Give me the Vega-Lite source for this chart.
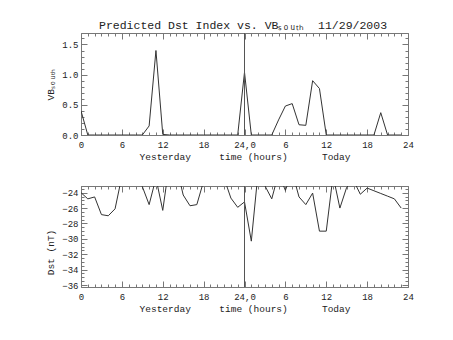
{
  "$schema": "https://vega.github.io/schema/vega-lite/v6.json",
  "padding": {"left": 45, "top": 20, "right": 5, "bottom": 5},
  "spacing": 0,
  "background": "white",
  "config": {
    "font": "Liberation Mono",
    "view": {"stroke": null},
    "axis": {
      "grid": false,
      "labelFont": "Liberation Mono",
      "labelFontSize": 9,
      "labelColor": "#222",
      "titleFont": "Liberation Mono",
      "titleFontSize": 9.5,
      "titleFontWeight": "normal",
      "titleColor": "#222",
      "domainColor": "#777",
      "tickColor": "#777",
      "domainWidth": 1,
      "tickWidth": 1
    }
  },
  "datasets": {
    "vb": [
      {"h": 0, "v": 0.40}, {"h": 1, "v": 0}, {"h": 2, "v": 0}, {"h": 3, "v": 0}, {"h": 4, "v": 0},
      {"h": 5, "v": 0}, {"h": 6, "v": 0}, {"h": 7, "v": 0}, {"h": 8, "v": 0}, {"h": 9, "v": 0},
      {"h": 10, "v": 0.15}, {"h": 11, "v": 1.40}, {"h": 12, "v": 0.01}, {"h": 13, "v": 0}, {"h": 14, "v": 0},
      {"h": 15, "v": 0}, {"h": 16, "v": 0}, {"h": 17, "v": 0}, {"h": 18, "v": 0}, {"h": 19, "v": 0},
      {"h": 20, "v": 0}, {"h": 21, "v": 0}, {"h": 22, "v": 0}, {"h": 23, "v": 0}, {"h": 24, "v": 1.04},
      {"h": 25, "v": 0}, {"h": 26, "v": 0}, {"h": 27, "v": 0}, {"h": 28, "v": 0}, {"h": 29, "v": 0.25},
      {"h": 30, "v": 0.48}, {"h": 31, "v": 0.52}, {"h": 32, "v": 0.17}, {"h": 33, "v": 0.16}, {"h": 34, "v": 0.90},
      {"h": 35, "v": 0.77}, {"h": 36, "v": 0}, {"h": 37, "v": 0}, {"h": 38, "v": 0}, {"h": 39, "v": 0},
      {"h": 40, "v": 0}, {"h": 41, "v": 0}, {"h": 42, "v": 0}, {"h": 43, "v": 0}, {"h": 44, "v": 0.37},
      {"h": 45, "v": 0}, {"h": 46, "v": 0}, {"h": 47, "v": 0}
    ],
    "dst": [
      {"h": 0, "v": -24.0}, {"h": 1, "v": -24.8}, {"h": 2, "v": -24.55}, {"h": 3, "v": -26.85}, {"h": 4, "v": -27.0},
      {"h": 5, "v": -26.1}, {"h": 6, "v": -21.85}, {"h": 7, "v": -21.5}, {"h": 8, "v": -22.0}, {"h": 9, "v": -23.2},
      {"h": 10, "v": -25.55}, {"h": 11, "v": -22.1}, {"h": 12, "v": -26.3}, {"h": 13, "v": -20.0}, {"h": 14, "v": -20.5},
      {"h": 15, "v": -24.3}, {"h": 16, "v": -25.7}, {"h": 17, "v": -25.55}, {"h": 18, "v": -22.5}, {"h": 19, "v": -21.5},
      {"h": 20, "v": -21.2}, {"h": 21, "v": -22.1}, {"h": 22, "v": -24.7}, {"h": 23, "v": -25.9}, {"h": 24, "v": -25.2},
      {"h": 25, "v": -30.3}, {"h": 26, "v": -21.3}, {"h": 27, "v": -23.1}, {"h": 28, "v": -24.8}, {"h": 29, "v": -21.5},
      {"h": 30, "v": -23.7}, {"h": 31, "v": -21.3}, {"h": 32, "v": -24.55}, {"h": 33, "v": -25.55}, {"h": 34, "v": -24.05},
      {"h": 35, "v": -29.0}, {"h": 36, "v": -29.0}, {"h": 37, "v": -21.8}, {"h": 38, "v": -26.0}, {"h": 39, "v": -23.3},
      {"h": 40, "v": -22.4}, {"h": 41, "v": -24.2}, {"h": 42, "v": -23.4}, {"h": 43, "v": -23.75}, {"h": 44, "v": -24.1},
      {"h": 45, "v": -24.45}, {"h": 46, "v": -24.8}, {"h": 47, "v": -26.0}
    ]
  },
  "vconcat": [
    {
      "width": 327,
      "height": 102,
      "title": {
        "text": "Predicted Dst Index vs. VB\u209b\u2092\u1d64\u209c\u2095\u00a0\u00a011/29/2003",
        "anchor": "start",
        "frame": "group",
        "dx": 18,
        "offset": 1,
        "font": "Liberation Mono",
        "fontSize": 11.5,
        "fontWeight": "normal",
        "color": "#222"
      },
      "data": {"name": "vb"},
      "layer": [
        {
          "mark": {"type": "line", "color": "#333", "strokeWidth": 1, "clip": true},
          "encoding": {
            "x": {"field": "h", "type": "quantitative", "scale": {"domain": [0, 48], "nice": false, "zero": false},
              "axis": {"orient": "bottom", "values": [0, 6, 12, 18, 24, 30, 36, 42, 48],
                "labelExpr": "datum.value == 24 ? '24,0' : datum.value > 24 ? format(datum.value - 24, 'd') : format(datum.value, 'd')",
                "tickSize": -6, "labelPadding": 11, "labelFlush": false,
                "title": "Yesterday\u00a0\u00a0\u00a0\u00a0\u00a0time (hours)\u00a0\u00a0\u00a0\u00a0\u00a0\u00a0Today", "titlePadding": 2}},
            "y": {"field": "v", "type": "quantitative", "scale": {"domain": [0, 1.69], "nice": false, "zero": false},
              "axis": {"orient": "left", "values": [0, 0.5, 1, 1.5], "format": ".1f", "tickSize": -6, "labelPadding": 9,
                "title": "VB\u209b\u2092\u1d64\u209c\u2095", "titlePadding": 6}}
          }
        },
        {
          "mark": {"type": "line", "opacity": 0},
          "encoding": {
            "x": {"field": "h", "type": "quantitative", "scale": {"domain": [0, 48], "nice": false, "zero": false},
              "axis": {"orient": "bottom", "values": [0,1,2,3,4,5,6,7,8,9,10,11,12,13,14,15,16,17,18,19,20,21,22,23,24,25,26,27,28,29,30,31,32,33,34,35,36,37,38,39,40,41,42,43,44,45,46,47,48],
                "tickSize": -3, "labels": false, "domain": false, "title": null}},
            "y": {"field": "v", "type": "quantitative", "scale": {"domain": [0, 1.69], "nice": false, "zero": false},
              "axis": {"orient": "left", "values": [0,0.1,0.2,0.3,0.4,0.5,0.6,0.7,0.8,0.9,1.0,1.1,1.2,1.3,1.4,1.5,1.6],
                "tickSize": -3, "labels": false, "domain": false, "title": null}}
          }
        },
        {
          "mark": {"type": "line", "opacity": 0},
          "encoding": {
            "x": {"field": "h", "type": "quantitative", "scale": {"domain": [0, 48], "nice": false, "zero": false},
              "axis": {"orient": "top", "values": [0, 6, 12, 18, 24, 30, 36, 42, 48], "tickSize": -6, "labels": false, "domain": true, "title": null}},
            "y": {"field": "v", "type": "quantitative", "scale": {"domain": [0, 1.69], "nice": false, "zero": false},
              "axis": {"orient": "right", "values": [0, 0.5, 1, 1.5], "tickSize": -6, "labels": false, "domain": true, "title": null}}
          }
        },
        {
          "mark": {"type": "line", "opacity": 0},
          "encoding": {
            "x": {"field": "h", "type": "quantitative", "scale": {"domain": [0, 48], "nice": false, "zero": false},
              "axis": {"orient": "top", "values": [0,1,2,3,4,5,6,7,8,9,10,11,12,13,14,15,16,17,18,19,20,21,22,23,24,25,26,27,28,29,30,31,32,33,34,35,36,37,38,39,40,41,42,43,44,45,46,47,48],
                "tickSize": -3, "labels": false, "domain": false, "title": null}},
            "y": {"field": "v", "type": "quantitative", "scale": {"domain": [0, 1.69], "nice": false, "zero": false},
              "axis": {"orient": "right", "values": [0,0.1,0.2,0.3,0.4,0.5,0.6,0.7,0.8,0.9,1.0,1.1,1.2,1.3,1.4,1.5,1.6],
                "tickSize": -3, "labels": false, "domain": false, "title": null}}
          }
        },
        {
          "mark": {"type": "rule", "color": "#555", "strokeWidth": 1, "clip": true},
          "encoding": {
            "x": {"datum": 24, "type": "quantitative", "axis": null},
            "y": {"datum": 0, "type": "quantitative", "axis": null},
            "y2": {"datum": 1.69}
          }
        }
      ],
      "resolve": {"axis": {"x": "independent", "y": "independent"}}
    },
    {
      "width": 327,
      "height": 101,
      "data": {"name": "dst"},
      "layer": [
        {
          "mark": {"type": "line", "color": "#333", "strokeWidth": 1, "clip": true},
          "encoding": {
            "x": {"field": "h", "type": "quantitative", "scale": {"domain": [0, 48], "nice": false, "zero": false},
              "axis": {"orient": "bottom", "values": [0, 6, 12, 18, 24, 30, 36, 42, 48],
                "labelExpr": "datum.value == 24 ? '24,0' : datum.value > 24 ? format(datum.value - 24, 'd') : format(datum.value, 'd')",
                "tickSize": -6, "labelPadding": 11, "labelFlush": false,
                "title": "Yesterday\u00a0\u00a0\u00a0\u00a0\u00a0time (hours)\u00a0\u00a0\u00a0\u00a0\u00a0\u00a0Today", "titlePadding": 2}},
            "y": {"field": "v", "type": "quantitative", "scale": {"domain": [-36.26, -23.13], "nice": false, "zero": false},
              "axis": {"orient": "left", "values": [-36, -34, -32, -30, -28, -26, -24], "format": "d", "tickSize": -6, "labelPadding": 9,
                "title": "Dst (nT)", "titlePadding": 6, "titleY": 66}}
          }
        },
        {
          "mark": {"type": "line", "opacity": 0},
          "encoding": {
            "x": {"field": "h", "type": "quantitative", "scale": {"domain": [0, 48], "nice": false, "zero": false},
              "axis": {"orient": "bottom", "values": [0,1,2,3,4,5,6,7,8,9,10,11,12,13,14,15,16,17,18,19,20,21,22,23,24,25,26,27,28,29,30,31,32,33,34,35,36,37,38,39,40,41,42,43,44,45,46,47,48],
                "tickSize": -3, "labels": false, "domain": false, "title": null}},
            "y": {"field": "v", "type": "quantitative", "scale": {"domain": [-36.26, -23.13], "nice": false, "zero": false},
              "axis": {"orient": "left", "values": [-36,-35.5,-35,-34.5,-34,-33.5,-33,-32.5,-32,-31.5,-31,-30.5,-30,-29.5,-29,-28.5,-28,-27.5,-27,-26.5,-26,-25.5,-25,-24.5,-24,-23.5],
                "tickSize": -3, "labels": false, "domain": false, "title": null}}
          }
        },
        {
          "mark": {"type": "line", "opacity": 0},
          "encoding": {
            "x": {"field": "h", "type": "quantitative", "scale": {"domain": [0, 48], "nice": false, "zero": false},
              "axis": {"orient": "top", "values": [0, 6, 12, 18, 24, 30, 36, 42, 48], "tickSize": -6, "labels": false, "domain": true, "title": null}},
            "y": {"field": "v", "type": "quantitative", "scale": {"domain": [-36.26, -23.13], "nice": false, "zero": false},
              "axis": {"orient": "right", "values": [-36, -34, -32, -30, -28, -26, -24], "tickSize": -6, "labels": false, "domain": true, "title": null}}
          }
        },
        {
          "mark": {"type": "line", "opacity": 0},
          "encoding": {
            "x": {"field": "h", "type": "quantitative", "scale": {"domain": [0, 48], "nice": false, "zero": false},
              "axis": {"orient": "top", "values": [0,1,2,3,4,5,6,7,8,9,10,11,12,13,14,15,16,17,18,19,20,21,22,23,24,25,26,27,28,29,30,31,32,33,34,35,36,37,38,39,40,41,42,43,44,45,46,47,48],
                "tickSize": -3, "labels": false, "domain": false, "title": null}},
            "y": {"field": "v", "type": "quantitative", "scale": {"domain": [-36.26, -23.13], "nice": false, "zero": false},
              "axis": {"orient": "right", "values": [-36,-35.5,-35,-34.5,-34,-33.5,-33,-32.5,-32,-31.5,-31,-30.5,-30,-29.5,-29,-28.5,-28,-27.5,-27,-26.5,-26,-25.5,-25,-24.5,-24,-23.5],
                "tickSize": -3, "labels": false, "domain": false, "title": null}}
          }
        },
        {
          "mark": {"type": "rule", "color": "#555", "strokeWidth": 1, "clip": true},
          "encoding": {
            "x": {"datum": 24, "type": "quantitative", "axis": null},
            "y": {"datum": -36.26, "type": "quantitative", "axis": null},
            "y2": {"datum": -23.13}
          }
        }
      ],
      "resolve": {"axis": {"x": "independent", "y": "independent"}}
    }
  ]
}
